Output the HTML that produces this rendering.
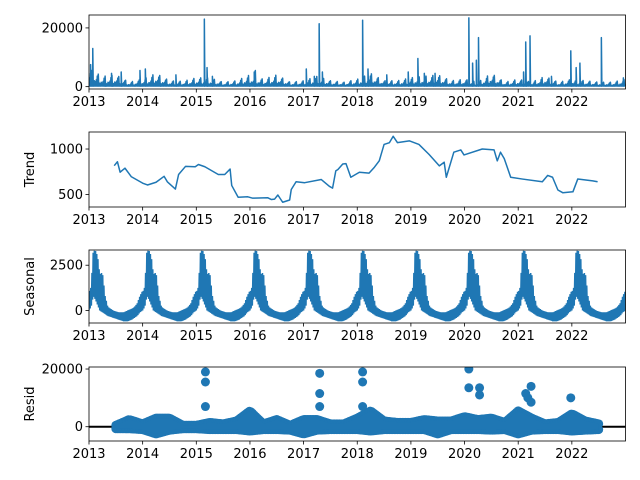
<!DOCTYPE html>
<html><head><meta charset="utf-8"><style>
body{margin:0;background:#fff}
svg{display:block;font-family:"DejaVu Sans","Liberation Sans",sans-serif}
</style></head><body>
<svg id="chart" width="640" height="480" viewBox="0 0 640 480" xmlns="http://www.w3.org/2000/svg"></svg>
<script>
// ---- data (t = years since 2013-01-01) ----
const years = [2013,2014,2015,2016,2017,2018,2019,2020,2021,2022];
const obsHiT = [0,0.25,0.5,0.75,1,1.25,1.5,1.75,2,2.25,2.5,2.75,3,3.25,3.5,3.75,4,4.25,4.5,4.75,5,5.25,5.5,5.75,6,6.25,6.5,6.75,7,7.25,7.5,7.75,8,8.25,8.5,8.75,9,9.25,9.5,9.75,10];
const obsHi = [6000,3500,4000,1500,2500,4500,2000,1800,3000,3000,1500,2000,4000,2500,4000,1500,2000,3500,2000,1500,2500,4500,2000,2000,3000,3500,4000,2000,2500,1500,4500,1500,2500,1500,3500,1500,2500,2000,1500,1500,2500];
const obsLo = 200;
const spikeT = [0.03,0.07,0.3,0.42,0.6,0.95,1.05,1.62,2.15,2.2,2.3,3.08,3.1,4.05,4.2,4.29,4.35,5.1,5.2,5.55,5.95,6.13,6.25,6.45,7.08,7.15,7.22,7.26,8.1,8.14,8.22,8.62,8.98,9.08,9.15,9.55,9.96];
const spikeV = [7500,13000,3500,4500,5000,5500,6000,4000,23000,6500,3500,5000,5500,6000,3500,21400,5000,22600,6000,4000,5000,9600,4500,4500,23400,8000,9000,16700,5000,15200,17300,3500,12200,6500,8000,16700,3000];
const trendT = [0.47,0.53,0.58,0.67,0.79,1.0,1.09,1.25,1.40,1.46,1.61,1.67,1.80,1.98,2.04,2.16,2.41,2.53,2.63,2.66,2.78,2.96,3.05,3.33,3.40,3.46,3.52,3.61,3.74,3.77,3.86,4.02,4.33,4.48,4.54,4.60,4.64,4.73,4.79,4.88,5.04,5.22,5.32,5.41,5.50,5.60,5.67,5.75,5.97,6.15,6.34,6.53,6.62,6.66,6.80,6.93,6.99,7.33,7.55,7.61,7.67,7.74,7.86,8.08,8.45,8.55,8.64,8.74,8.83,9.02,9.11,9.39,9.48];
const trendV = [817,860,745,790,695,625,605,635,700,640,560,720,810,805,830,805,720,720,780,600,470,475,460,465,445,450,495,415,440,555,640,630,665,590,570,760,775,835,840,690,745,735,800,870,1050,1070,1140,1070,1090,1050,940,815,855,690,965,990,935,1000,990,870,965,895,690,670,640,710,690,550,520,530,670,650,640];
const seasPhase = [0,0.04,0.08,0.12,0.16,0.2,0.25,0.3,0.35,0.45,0.55,0.65,0.72,0.8,0.85,0.9,0.95,1.0];
const seasHi = [1000,1300,3300,3300,3000,2000,2100,800,200,0,-100,-100,0,100,200,400,800,1100];
const seasLo = [0,200,800,600,300,0,-100,-200,-300,-400,-500,-600,-600,-500,-400,-300,-100,0];
const residT = [0.5,0.75,1,1.25,1.5,1.75,2,2.25,2.5,2.75,3,3.25,3.5,3.75,4,4.25,4.5,4.75,5,5.25,5.5,5.75,6,6.25,6.5,6.75,7,7.25,7.5,7.75,8,8.25,8.5,8.75,9,9.25,9.5];
const residHi = [500,2500,1000,3000,3000,500,500,1500,1000,2000,5500,1000,2500,500,2500,2500,1000,1000,3000,5500,2000,1500,1500,2500,2000,2000,3500,2500,3000,1500,5500,3000,1000,1500,4500,2000,1000];
const residLo = [-700,-700,-1000,-2500,-1200,-700,-700,-1000,-1000,-1000,-1500,-1000,-1000,-1200,-2500,-1200,-1000,-1000,-1000,-1500,-1000,-1000,-1000,-1000,-2500,-1000,-1000,-1000,-1200,-1000,-2500,-1200,-1000,-1000,-1500,-1200,-1000];
const outT = [2.17,2.17,2.17,4.3,4.3,4.3,5.1,5.1,5.1,7.08,7.08,7.28,7.28,8.14,8.18,8.24,8.24,8.98];
const outV = [19000,15500,7000,18500,11500,7000,19000,15500,7000,20000,13500,13500,11000,11500,10000,14000,8500,10000];

const NS='http://www.w3.org/2000/svg';
const svg=document.getElementById('chart');
const C='#1f77b4';
function mk(tag,attrs,parent){const e=document.createElementNS(NS,tag);for(const k in attrs)e.setAttribute(k,attrs[k]);(parent||svg).appendChild(e);return e;}
const X0=89,X1=625.5;
function xs(t){return X0+t*(X1-X0)/10;}
function interp(ts,vs,t){if(t<=ts[0])return vs[0];for(let i=1;i<ts.length;i++){if(t<=ts[i]){const f=(t-ts[i-1])/(ts[i]-ts[i-1]);return vs[i-1]+f*(vs[i]-vs[i-1]);}}return vs[vs.length-1];}
function panel(name,top,bot,ymin,ymax,yticks,ylab){
  const g=mk('g',{});
  
  
  const ys=v=>bot-(v-ymin)/(ymax-ymin)*(bot-top);
  const clipId='clip-'+name;
  const cp=mk('clipPath',{id:clipId},g);mk('rect',{x:X0,y:top,width:X1-X0,height:bot-top},cp);
  const plot=mk('g',{'clip-path':'url(#'+clipId+')'},g);
  
  
  years.forEach((yr,i)=>{const x=xs(i);
    mk('line',{x1:x,y1:bot,x2:x,y2:bot+3.5,stroke:'#000','stroke-width':0.8},g);
    const tx=mk('text',{x:x,y:bot+17,'font-size':13,'text-anchor':'middle',fill:'#000'},g);tx.textContent=yr;
    
    
  });
  yticks.forEach(v=>{const y=ys(v);
    mk('line',{x1:X0,y1:y,x2:X0-3.5,y2:y,stroke:'#000','stroke-width':0.8},g);
    const tx=mk('text',{x:X0-6,y:y+4.5,'font-size':13,'text-anchor':'end',fill:'#000'},g);tx.textContent=v;
    
    
  });
  if(ylab){const tx=mk('text',{x:0,y:0,'font-size':13,'text-anchor':'middle',transform:'translate(34,'+((top+bot)/2)+') rotate(-90)',fill:'#000'},g);tx.textContent=ylab;
    
    }
  return {g,plot,ys,top,bot};
}
// Panel 1 observed
let p=panel('observed',15,89,-800,24400,[0,20000],null);
{let pts=[];const n=1100;let si=0;const order=spikeT.map((t,i)=>i).sort((a,b)=>spikeT[a]-spikeT[b]);
 for(let i=0;i<=n;i++){const t=i/n*10;
  while(si<order.length&&spikeT[order[si]]<=t){const k=order[si];pts.push([xs(spikeT[k]),p.ys(obsLo)],[xs(spikeT[k]),p.ys(spikeV[k])],[xs(spikeT[k])+0.5,p.ys(obsLo)]);si++;}
  const v=(i%2)?interp(obsHiT,obsHi,t)*[0.3,0.5,0.25,0.8,0.4,1.0,0.35][i%7]:obsLo;pts.push([xs(t),p.ys(v)]);}
 const l=mk('polyline',{points:pts.map(a=>a.join(',')).join(' '),fill:'none',stroke:C,'stroke-width':1.5,'stroke-linejoin':'round'},p.plot);
 
 }
mk('rect',{x:X0,y:15,width:X1-X0,height:74,fill:'none',stroke:'#000','stroke-width':0.8},p.g);
// Panel 2 trend
p=panel('trend',132,207,363,1187,[500,1000],'Trend');
{const l=mk('polyline',{points:trendT.map((t,i)=>xs(t)+','+p.ys(trendV[i])).join(' '),fill:'none',stroke:C,'stroke-width':1.5,'stroke-linejoin':'round'},p.plot);
 
 }
mk('rect',{x:X0,y:132,width:X1-X0,height:75,fill:'none',stroke:'#000','stroke-width':0.8},p.g);
// Panel 3 seasonal
p=panel('seasonal',250,323,-690,3340,[0,2500],'Seasonal');
{let pts=[];const n=900;for(let i=0;i<=n;i++){const t=i/n*10;const ph=t-Math.floor(t);
  const v=(i%2)?interp(seasPhase,seasHi,ph):interp(seasPhase,seasLo,ph);pts.push(xs(t)+','+p.ys(v));}
 const l=mk('polyline',{points:pts.join(' '),fill:'none',stroke:C,'stroke-width':1.5},p.plot);
 
 }
mk('rect',{x:X0,y:250,width:X1-X0,height:73,fill:'none',stroke:'#000','stroke-width':0.8},p.g);
// Panel 4 resid
p=panel('resid',367,441,-4950,20700,[0,20000],'Resid');
{const hl=mk('line',{x1:X0,y1:p.ys(0),x2:X1,y2:p.ys(0),stroke:'#000','stroke-width':2},p.plot);
 
 
 const t0=residT[0],t1=residT[residT.length-1];let top=[],bot=[];
 for(let t=t0;t<=t1+1e-9;t+=0.03){const hi=interp(residT,residHi,t),lo=interp(residT,residLo,t);
  top.push(xs(t)+','+p.ys(hi));bot.unshift(xs(t)+','+p.ys(lo));
  for(const v of [hi,lo]){const c=mk('circle',{cx:xs(t),cy:p.ys(v),r:4.5,fill:C},p.plot);
   
   }}
 const band=mk('polygon',{points:top.concat(bot).join(' '),fill:C},p.plot);
 
 
 outT.forEach((t,i)=>{const c=mk('circle',{cx:xs(t),cy:p.ys(outV[i]),r:4.5,fill:C},p.plot);
  
  });}
mk('rect',{x:X0,y:367,width:X1-X0,height:74,fill:'none',stroke:'#000','stroke-width':0.8},p.g);
</script>
</body></html>
